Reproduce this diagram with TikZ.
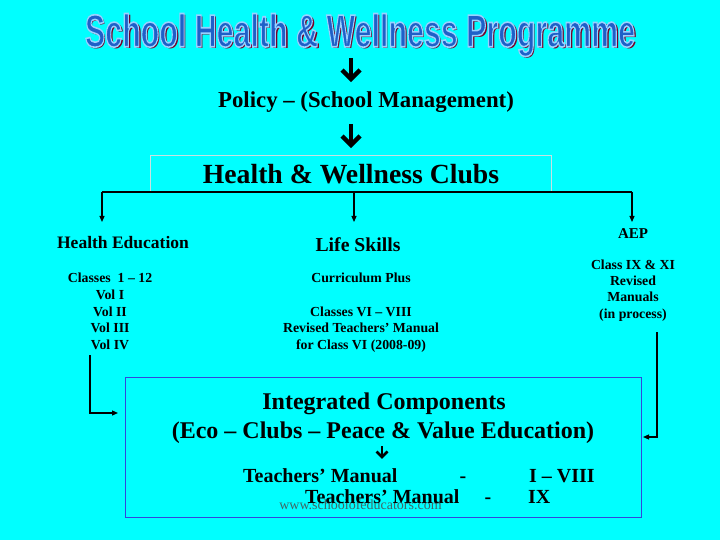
\documentclass[tikz,border=0pt]{standalone}
\usepackage{fontspec}
\usepackage{graphicx}
\setmainfont{Liberation Serif}
\newfontfamily\titlefont{Liberation Sans}
\usetikzlibrary{arrows.meta}
\definecolor{bgcyan}{RGB}{0,255,255}
\definecolor{titleblue}{RGB}{30,96,200}
\definecolor{titleshadow}{RGB}{120,0,40}
\definecolor{boxblue}{RGB}{50,70,220}
\definecolor{clubedge}{RGB}{200,225,225}
\newcommand\mytitletext{\titlefont\bfseries School Health \& Wellness Programme}
\newcommand\mytitle[1]{\resizebox*{550pt}{43pt}{\textcolor{#1}{\mytitletext}}}
\newcommand\mytitleoutlined{\resizebox*{550pt}{43pt}{\textcolor{titleblue}{\special{pdf:literal q 2 Tr 0.35 w 0.6 0.82 1 RG}\mytitletext\special{pdf:literal Q}}}}
\newcommand\fsz[1]{\fontsize{#1}{#1}\selectfont\bfseries}
\newcommand\thickdown[5]{%
  \draw[line width=#5] (#1,#2) -- (#1,{#3-2});
  \draw[line width=#5, line join=miter] ({#1-#4},{#3-#4}) -- (#1,#3) -- ({#1+#4},{#3-#4});}
\begin{document}
\begin{tikzpicture}[x=1pt,y=-1pt,
  T/.style={inner sep=0pt, text=black, font=\fsz{#1}, anchor=base, yshift={-0.33*#1*1pt}},
  conn/.style={draw=black, line width=1.2pt},
  arr/.style={conn, -{Triangle[length=6pt,width=5pt]}}]
\fill[bgcyan] (0,0) rectangle (720,540);
\useasboundingbox (0,0) rectangle (720,540);

% title
\node[inner sep=0pt] (tshadow) at (362,36.8) {\mytitle{titleshadow}};
\node[inner sep=0pt] (title) at (360,35) {\mytitleoutlined};

\thickdown{351}{58}{79}{9}{4.5pt}
\node[T=22.8] (policy) at (366,100) {Policy – (School Management)};
\thickdown{351}{124}{145}{9}{4.5pt}

\node[draw=clubedge, line width=0.8pt, minimum width=401pt, minimum height=36pt, inner sep=0pt] (clubs) at (350.5,173) {};
\node[T=27.7] (clubst) at (351,174) {Health \& Wellness Clubs};

% branches
\coordinate (jL) at (102,192);
\coordinate (jM) at (354,192);
\coordinate (jR) at (632,192);
\coordinate (tL) at (102,222);
\coordinate (tM) at (354,222);
\coordinate (tR) at (632,222);
\draw[conn] (jL) -- (jR);
\draw[arr] (jL) -- (tL);
\draw[arr] (jM) -- (tM);
\draw[arr] (jR) -- (tR);

\node[T=17.5] (he) at (123,243) {Health Education};
\node[T=19.7] (ls) at (358,245) {Life Skills};
\node[T=15] (aep) at (633,234) {AEP};

\foreach \t/\y [count=\i] in {{Classes\ \ 1 – 12}/278, {Vol I}/295, {Vol II}/312, {Vol III}/328, {Vol IV}/345}
  \node[T=13.8] (hel\i) at (110,\y) {\t};
\foreach \t/\y [count=\i] in {{Curriculum Plus}/278, {Classes VI – VIII}/312, {Revised Teachers’ Manual}/328, {for Class VI (2008-09)}/345}
  \node[T=13.8] (lsl\i) at (361,\y) {\t};
\foreach \t/\y [count=\i] in {{Class IX \& XI}/265, {Revised}/281, {Manuals}/297, {(in process)}/314}
  \node[T=13.8] (aepl\i) at (633,\y) {\t};

% integrated box
\node[draw=boxblue, line width=0.9pt, minimum width=516pt, minimum height=140pt, inner sep=0pt] (ic) at (383,447) {};
\node[T=24] (ic1) at (384,402) {Integrated Components};
\node[T=24] (ic2) at (383,431) {(Eco – Clubs – Peace \& Value Education)};
\thickdown{382}{446}{457}{5.5}{2.8pt}

\node[text=black!70, opacity=0.85, inner sep=0pt, font=\fontsize{14}{14}\selectfont, anchor=base] (wm) at (360.5,509) {www.schoolofeducators.com};
\node[T=20, anchor=base west] (tm1) at (243,476) {Teachers’ Manual};
\node[T=20] (d1) at (463,476) {-};
\node[T=20, anchor=base west] (r1) at (529,476) {I – VIII};
\node[T=20, anchor=base west] (tm2) at (305,497) {Teachers’ Manual};
\node[T=20] (d2) at (488,497) {-};
\node[T=20, anchor=base west] (r2) at (528,497) {IX};

% feeds into box
\coordinate (lfTop) at (90,355);
\coordinate (lfEnd) at (118,413);
\draw[arr] (lfTop) |- (lfEnd);
\coordinate (rfTop) at (657,332);
\coordinate (rfEnd) at (643,437);
\draw[arr] (rfTop) |- (rfEnd);
\end{tikzpicture}
\end{document}
